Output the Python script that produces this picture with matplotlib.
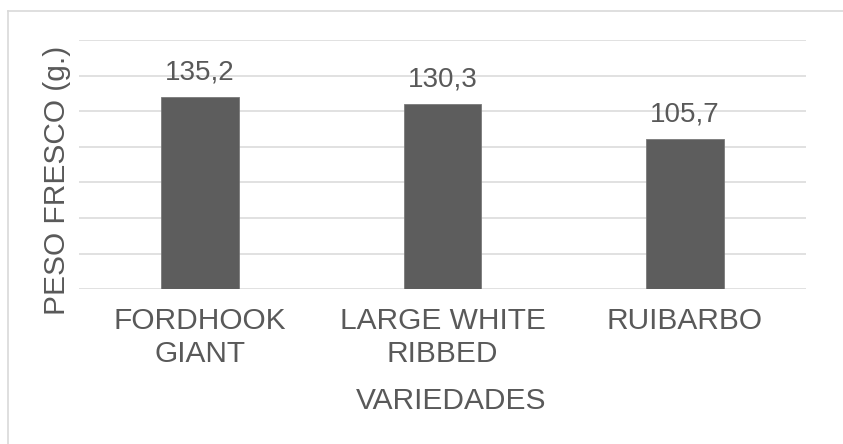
import matplotlib
matplotlib.use("Agg")
import matplotlib.pyplot as plt
from matplotlib.lines import Line2D

plt.rcParams['font.family'] = ['Liberation Sans', 'DejaVu Sans']

# Data
variedades = ["FORDHOOK\nGIANT", "LARGE WHITE\nRIBBED", "RUIBARBO"]
peso_fresco = [135.2, 130.3, 105.7]
etiquetas = ["135,2", "130,3", "105,7"]

TEXT = "#595959"
GRID = "#d9d9d9"
BAR = "#5d5d5d"

W, H = 843, 444
fig = plt.figure(figsize=(W / 100, H / 100), dpi=100)

# Axes placed in pixel units
left, right, top, bottom = 79, 806, 40, 289.3
ax = fig.add_axes([left / W, (H - bottom) / H, (right - left) / W, (bottom - top) / H])

x = range(len(variedades))
ax.bar(x, peso_fresco, width=0.32, color=BAR, edgecolor="#7a7a7a", linewidth=0.6, zorder=3)
ax.set_xlim(-0.5, len(variedades) - 0.5)
ax.set_ylim(0, 175)
ax.set_yticks(range(0, 176, 25))
ax.set_yticklabels([])
ax.tick_params(axis="y", length=0)
ax.grid(axis="y", color=GRID, linewidth=1.1, zorder=0)
ax.set_axisbelow(True)
for s in ax.spines.values():
    s.set_visible(False)

ax.set_xticks(list(x))
ax.set_xticklabels(variedades, fontsize=21.5, color=TEXT, linespacing=1.2)
ax.tick_params(axis="x", length=0, pad=13)

for xi, v, lab in zip(x, peso_fresco, etiquetas):
    ax.annotate(lab, (xi, v), xytext=(0, 12.2), textcoords="offset points",
                ha="center", va="baseline", fontsize=20, color=TEXT)

fig.text(451 / W, (H - 409.3) / H, "VARIEDADES", ha="center", va="baseline",
         fontsize=21.5, color=TEXT)
fig.text(57.5 / W, (H - 180) / H, "PESO FRESCO (g.)", rotation=90, ha="center",
         va="center", fontsize=21.5, color=TEXT)

# Chart-area frame
fig.add_artist(Line2D([8 / W, 1.0], [(H - 11) / H] * 2, color=GRID, linewidth=1.2,
                      transform=fig.transFigure))
fig.add_artist(Line2D([8 / W] * 2, [(H - 11) / H, 0.0], color=GRID, linewidth=1.2,
                      transform=fig.transFigure))

fig.savefig("out.png", dpi=100)
